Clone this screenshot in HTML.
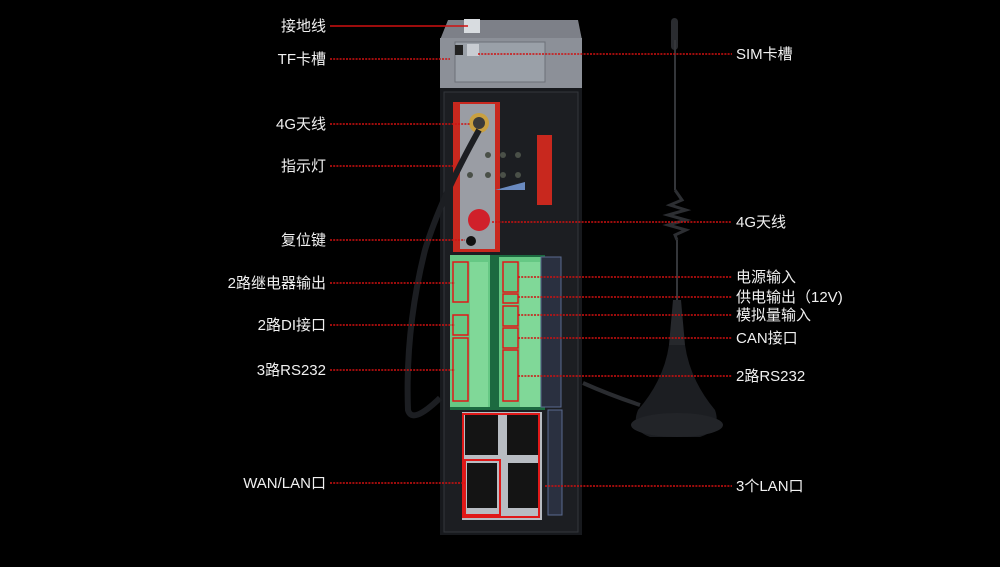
<!DOCTYPE html>
<html><head><meta charset="utf-8"><style>
html,body{margin:0;padding:0;background:#000;}
svg{display:block}
text{font-family:"Liberation Sans","Noto Sans CJK SC",sans-serif;fill:#f0f0f0;font-size:15px;}
</style></head><body>
<svg width="1000" height="567" viewBox="0 0 1000 567" xmlns="http://www.w3.org/2000/svg">
<rect width="1000" height="567" fill="#000"/>
<!-- antenna -->
<rect x="671" y="18" width="7" height="32" rx="3.5" fill="#2a2c30"/>
<line x1="675" y1="40" x2="675" y2="190" stroke="#34363a" stroke-width="2"/>
<path d="M675 190 L682 200 L670 205 L686 210 L668 215 L686 220 L668 225 L686 230 L675 235 L677 240" stroke="#2c2e32" stroke-width="3" fill="none"/>
<line x1="677" y1="240" x2="677" y2="300" stroke="#34363a" stroke-width="2"/>
<path d="M673 300 L681 300 L685 345 L669 345 Z" fill="#26282c"/>
<path d="M669 345 L685 345 Q690 380 715 410 Q722 430 700 437 L650 437 Q630 430 638 410 Q664 380 669 345Z" fill="#1c1e22"/>
<ellipse cx="677" cy="425" rx="46" ry="12" fill="#222428"/>
<path d="M640 405 Q610 395 583 383" stroke="#2a2c30" stroke-width="4" fill="none"/>
<!-- device -->
<path d="M440 40 L448 20 L578 20 L582 40 Z" fill="#7d8088"/>
<rect x="440" y="38" width="142" height="50" fill="#8c9098"/>
<rect x="455" y="42" width="90" height="40" fill="#9aa0a8" stroke="#6c7078"/>
<rect x="464" y="19" width="16" height="14" fill="#d8dce0"/>
<rect x="455" y="45" width="8" height="10" fill="#222"/>
<rect x="467" y="44" width="12" height="12" fill="#c8ccd2"/>
<rect x="440" y="88" width="142" height="447" fill="#17191d"/>
<rect x="444" y="92" width="134" height="440" fill="#1c1e22" stroke="#33363c"/>
<!-- red/gray panel -->
<rect x="453" y="102" width="47" height="150" fill="#c8281e"/>
<rect x="460" y="104" width="35" height="145" fill="#9a9da4"/>
<rect x="537" y="135" width="15" height="70" fill="#c8281e"/>
<g fill="#4a5048"><circle cx="488" cy="155" r="3"/><circle cx="503" cy="155" r="3"/><circle cx="518" cy="155" r="3"/><circle cx="470" cy="175" r="3"/><circle cx="488" cy="175" r="3"/><circle cx="503" cy="175" r="3"/><circle cx="518" cy="175" r="3"/></g>
<path d="M495 190 L525 182 L525 190 Z" fill="#6a8ac0"/>
<circle cx="479" cy="123" r="10" fill="#c9a040"/><circle cx="479" cy="123" r="6" fill="#3a3a3a"/>
<circle cx="479" cy="220" r="11" fill="#d0202a"/>
<circle cx="471" cy="241" r="5" fill="#111"/>
<!-- cable -->
<path d="M479 130 Q440 200 425 250 Q405 330 408 410 Q412 425 440 398" stroke="#1c1e22" stroke-width="6" fill="none"/>
<!-- terminals -->
<rect x="450" y="255" width="95" height="155" fill="#1c6a40"/>
<rect x="450" y="255" width="40" height="152" fill="#66c884"/>
<rect x="499" y="257" width="42" height="150" fill="#66c884"/>
<rect x="470" y="262" width="18" height="145" fill="#80d898"/>
<rect x="520" y="262" width="20" height="145" fill="#80d898"/>
<g fill="none" stroke="#e01818" stroke-width="1.5">
<rect x="453" y="262" width="15" height="40"/><rect x="453" y="315" width="15" height="20"/><rect x="453" y="338" width="15" height="63"/>
<rect x="503" y="262" width="15" height="30"/><rect x="503" y="294" width="15" height="9"/><rect x="503" y="306" width="15" height="20"/><rect x="503" y="328" width="15" height="20"/><rect x="503" y="350" width="15" height="51"/>
</g>
<rect x="541" y="257" width="20" height="150" fill="#2a3040" stroke="#5a6a90"/>
<rect x="548" y="410" width="14" height="105" fill="#2a3040" stroke="#5a6a90"/>
<!-- ethernet -->
<rect x="462" y="412" width="80" height="108" fill="#b8bcc2"/>
<rect x="465" y="415" width="33" height="40" fill="#141414"/><rect x="507" y="415" width="32" height="40" fill="#141414"/>
<rect x="467" y="463" width="30" height="45" fill="#141414"/><rect x="508" y="463" width="30" height="45" fill="#141414"/>
<g fill="none" stroke="#e01818" stroke-width="2">
<rect x="463" y="414" width="76" height="103"/>
<rect x="465" y="460" width="35" height="55"/>
</g>
<!-- leader lines -->
<g stroke="#d01010" stroke-width="1.5" stroke-dasharray="2 1.2">
<line x1="330" y1="26" x2="468" y2="26" stroke-dasharray="none"/>
<line x1="330" y1="59" x2="450" y2="59"/>
<line x1="330" y1="124" x2="470" y2="124"/>
<line x1="330" y1="166" x2="455" y2="166"/>
<line x1="330" y1="240" x2="465" y2="240"/>
<line x1="330" y1="283" x2="455" y2="283"/>
<line x1="330" y1="325" x2="455" y2="325"/>
<line x1="330" y1="370" x2="455" y2="370"/>
<line x1="330" y1="483" x2="465" y2="483"/>
<line x1="478" y1="54" x2="732" y2="54"/>
<line x1="492" y1="222" x2="732" y2="222"/>
<line x1="518" y1="277" x2="732" y2="277"/>
<line x1="518" y1="297" x2="732" y2="297"/>
<line x1="518" y1="315" x2="732" y2="315"/>
<line x1="518" y1="338" x2="732" y2="338"/>
<line x1="518" y1="376" x2="732" y2="376"/>
<line x1="545" y1="486" x2="732" y2="486"/>
</g>
<g text-anchor="end">
<text x="326" y="31">接地线</text>
<text x="326" y="64">TF卡槽</text>
<text x="326" y="129">4G天线</text>
<text x="326" y="171">指示灯</text>
<text x="326" y="245">复位键</text>
<text x="326" y="288">2路继电器输出</text>
<text x="326" y="330">2路DI接口</text>
<text x="326" y="375">3路RS232</text>
<text x="326" y="488">WAN/LAN口</text>
</g>
<text x="736" y="59">SIM卡槽</text>
<text x="736" y="227">4G天线</text>
<text x="736" y="282">电源输入</text>
<text x="736" y="302">供电输出（12V)</text>
<text x="736" y="320">模拟量输入</text>
<text x="736" y="343">CAN接口</text>
<text x="736" y="381">2路RS232</text>
<text x="736" y="491">3个LAN口</text>
</svg>
</body></html>
